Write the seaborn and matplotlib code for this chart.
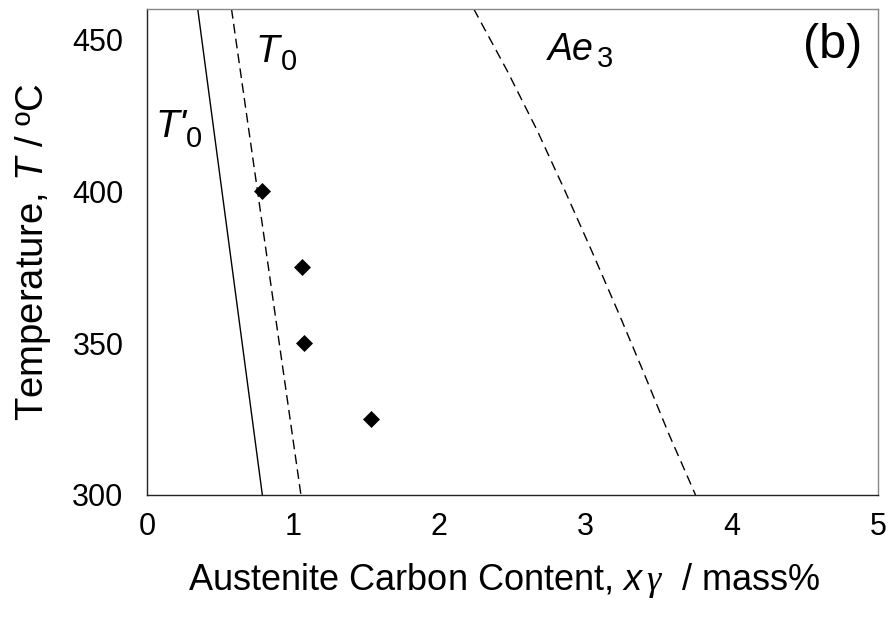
import matplotlib
matplotlib.use("Agg")
import matplotlib.pyplot as plt
import seaborn as sns

# ---- data ----
t0p_T = [460, 300]
t0p_x = [0.347, 0.789]

t0_T = [460, 300]
t0_x = [0.578, 1.053]

ae3_T = [460, 440, 420, 400, 380, 360, 340, 320, 300]
ae3_x = [2.235, 2.46, 2.669, 2.86, 3.045, 3.225, 3.40, 3.57, 3.752]

exp_x = [0.79, 1.057, 1.077, 1.529]
exp_T = [400, 375, 350, 325]

x_ticks = [0, 1, 2, 3, 4, 5]
y_ticks = [300, 350, 400, 450]

sns.set_theme(style="white")
plt.rcParams["font.family"] = ["Liberation Sans", "DejaVu Sans"]
plt.rcParams["mathtext.fontset"] = "custom"
plt.rcParams["mathtext.rm"] = "Liberation Sans"
plt.rcParams["mathtext.it"] = "Liberation Sans:italic"
plt.rcParams["mathtext.bf"] = "Liberation Serif:italic"

fig = plt.figure(figsize=(8.93, 6.28), dpi=100)
ax = fig.add_axes([147 / 893, 1 - 495 / 628, (878 - 147) / 893, (495 - 9) / 628])

sns.lineplot(x=t0p_x, y=t0p_T, sort=False, estimator=None, color="black",
             linewidth=1.0, ax=ax)
sns.lineplot(x=t0_x, y=t0_T, sort=False, estimator=None, color="black",
             linewidth=1.0, ax=ax)
ax.lines[-1].set_dashes((7, 3.8))
sns.lineplot(x=ae3_x, y=ae3_T, sort=False, estimator=None, color="black",
             linewidth=1.0, ax=ax)
ax.lines[-1].set_dashes((7, 4.2))
sns.scatterplot(x=exp_x, y=exp_T, marker="D", s=75, color="black",
                edgecolor="black", linewidth=0, ax=ax, zorder=5)

ax.set_xlim(0, 5)
ax.set_ylim(300, 460)
ax.set_xticks(x_ticks)
ax.set_yticks(y_ticks)
ax.set_xticklabels([str(v) for v in x_ticks])
ax.set_yticklabels([str(v) for v in y_ticks])
ax.tick_params(axis="both", which="major", direction="out", length=9, width=1,
               color="black", labelsize=22, labelcolor="black")
ax.tick_params(axis="x", pad=3)
ax.tick_params(axis="y", pad=8)

for s in ["left", "bottom"]:
    ax.spines[s].set_color("#222222")
    ax.spines[s].set_linewidth(1.0)
for s in ["top", "right"]:
    ax.spines[s].set_color("#888888")
    ax.spines[s].set_linewidth(1.0)

ax.set_xlabel(r"Austenite Carbon Content, $x\,\mathbf{\gamma}$  / mass%",
              fontsize=26, color="black")
ax.xaxis.set_label_coords(0.488, -0.135)
ax.set_ylabel(r"Temperature, $T$ / ºC", fontsize=27.5, color="black")
ax.yaxis.set_label_coords(-0.128, 0.5)

# curve labels
ax.text(0.058, 417.9, "T'", fontsize=28, style="italic", color="black",
        ha="left", va="baseline")
ax.text(0.268, 414.6, "0", fontsize=21, color="black", ha="left", va="baseline")

ax.text(0.74, 442.5, "T", fontsize=28, style="italic", color="black",
        ha="left", va="baseline")
ax.text(0.918, 439.8, "0", fontsize=21, color="black", ha="left", va="baseline")

ax.text(2.745, 443.2, "Ae", fontsize=27, style="italic", color="black",
        ha="left", va="baseline")
ax.text(3.075, 440.8, "3", fontsize=21, color="black", ha="left", va="baseline")

ax.text(4.69, 448, "(b)", fontsize=35, color="black", ha="center",
        va="center")

fig.savefig("out.png", dpi=100)
